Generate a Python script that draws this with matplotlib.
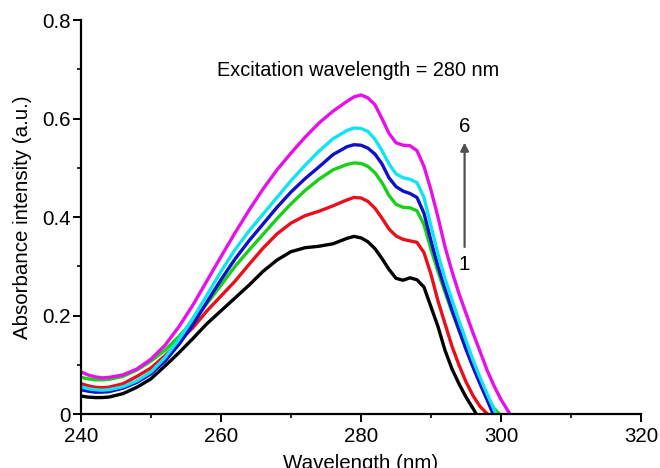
import matplotlib
matplotlib.use("Agg")
import matplotlib.pyplot as plt
from matplotlib.ticker import MultipleLocator

plt.rcParams['font.family'] = ['Liberation Sans', 'DejaVu Sans']

# absorbance spectra 1..6 (wavelength in nm, absorbance in a.u.)
wl_1 = [240, 241, 242, 243, 244, 246, 248, 250, 252, 254, 256, 258, 260, 262, 264, 266, 268, 270,
        272, 274, 276, 278, 279, 280, 281, 282, 283, 284, 285, 286, 287, 288, 289, 290, 291, 292,
        293, 294, 295, 296, 296.5]
abs_1 = [0.037, 0.035, 0.034, 0.034, 0.035, 0.042, 0.055, 0.072, 0.098, 0.125, 0.154, 0.184, 0.210,
         0.236, 0.262, 0.290, 0.313, 0.330, 0.338, 0.341, 0.346, 0.357, 0.361, 0.358, 0.350, 0.336,
         0.316, 0.294, 0.276, 0.272, 0.277, 0.273, 0.258, 0.218, 0.178, 0.130, 0.092, 0.062, 0.035,
         0.012, 0.0]

wl_2 = [240, 241, 242, 243, 244, 246, 248, 250, 252, 254, 256, 258, 260, 262, 264, 266, 268, 270,
        272, 274, 276, 278, 279, 280, 281, 282, 283, 284, 285, 286, 287, 288, 289, 290, 291, 292,
        293, 294, 295, 296, 297, 298.1]
abs_2 = [0.062, 0.058, 0.055, 0.054, 0.055, 0.062, 0.077, 0.094, 0.119, 0.148, 0.176, 0.210, 0.240,
         0.270, 0.304, 0.337, 0.366, 0.388, 0.403, 0.412, 0.423, 0.435, 0.440, 0.439, 0.432, 0.418,
         0.398, 0.376, 0.362, 0.355, 0.352, 0.349, 0.328, 0.284, 0.230, 0.184, 0.138, 0.100, 0.066,
         0.038, 0.016, 0.0]

wl_3 = [240, 241, 242, 243, 244, 246, 248, 250, 252, 254, 256, 258, 260, 262, 264, 266, 268, 270,
        272, 274, 276, 278, 279, 280, 281, 282, 283, 284, 285, 286, 287, 288, 289, 290, 291, 292,
        293, 294, 295, 296, 297, 298, 299, 299.8]
abs_3 = [0.075, 0.072, 0.070, 0.070, 0.071, 0.077, 0.090, 0.108, 0.130, 0.158, 0.190, 0.225, 0.262,
         0.300, 0.333, 0.365, 0.397, 0.427, 0.454, 0.477, 0.496, 0.507, 0.510, 0.509, 0.503, 0.490,
         0.470, 0.444, 0.426, 0.420, 0.419, 0.413, 0.385, 0.335, 0.290, 0.248, 0.208, 0.170, 0.133,
         0.098, 0.066, 0.037, 0.012, 0.0]

wl_4 = [240, 241, 242, 243, 244, 246, 248, 250, 252, 254, 256, 258, 260, 262, 264, 266, 268, 270,
        272, 274, 276, 278, 279, 280, 281, 282, 283, 284, 285, 286, 287, 288, 289, 290, 291, 292,
        293, 294, 295, 296, 297, 298, 298.9]
abs_4 = [0.050, 0.047, 0.045, 0.045, 0.046, 0.053, 0.065, 0.082, 0.108, 0.142, 0.182, 0.228, 0.273,
         0.315, 0.352, 0.386, 0.420, 0.451, 0.478, 0.502, 0.527, 0.543, 0.547, 0.546, 0.540, 0.528,
         0.508, 0.480, 0.462, 0.453, 0.448, 0.440, 0.408, 0.352, 0.300, 0.255, 0.212, 0.172, 0.132,
         0.096, 0.062, 0.030, 0.0]

wl_5 = [240, 241, 242, 243, 244, 246, 248, 250, 252, 254, 256, 258, 260, 262, 264, 266, 268, 270,
        272, 274, 276, 278, 279, 280, 281, 282, 283, 284, 285, 286, 287, 288, 289, 290, 291, 292,
        293, 294, 295, 296, 297, 298, 299, 299.3]
abs_5 = [0.056, 0.052, 0.050, 0.049, 0.050, 0.056, 0.068, 0.086, 0.115, 0.152, 0.195, 0.242, 0.290,
         0.334, 0.372, 0.406, 0.440, 0.474, 0.505, 0.534, 0.559, 0.576, 0.581, 0.580, 0.574, 0.558,
         0.535, 0.508, 0.488, 0.480, 0.477, 0.470, 0.440, 0.382, 0.325, 0.275, 0.232, 0.190, 0.150,
         0.110, 0.075, 0.042, 0.010, 0.0]

wl_6 = [240, 241, 242, 243, 244, 246, 248, 250, 252, 254, 256, 258, 260, 262, 264, 266, 268, 270,
        272, 274, 276, 278, 279, 280, 281, 282, 283, 284, 285, 286, 287, 288, 289, 290, 291, 292,
        293, 294, 295, 296, 297, 298, 299, 300, 301.3]
abs_6 = [0.086, 0.080, 0.076, 0.074, 0.075, 0.080, 0.092, 0.112, 0.140, 0.178, 0.222, 0.271, 0.320,
         0.368, 0.414, 0.457, 0.496, 0.530, 0.562, 0.591, 0.615, 0.635, 0.644, 0.648, 0.642, 0.628,
         0.600, 0.570, 0.551, 0.546, 0.545, 0.535, 0.503, 0.455, 0.400, 0.340, 0.290, 0.245, 0.205,
         0.165, 0.128, 0.090, 0.058, 0.030, 0.0]

curves = [(wl_1, abs_1, '#000000'),
          (wl_2, abs_2, '#e8101a'),
          (wl_3, abs_3, '#18d018'),
          (wl_4, abs_4, '#1010c8'),
          (wl_5, abs_5, '#10e4f0'),
          (wl_6, abs_6, '#e810e8')]

fig = plt.figure(figsize=(6.6, 4.68), dpi=100)
ax = fig.add_axes([0.1227, 0.1147, 0.8485, 0.8425])

for wl, ab, col in curves:
    ax.plot(wl, ab, color=col, lw=2.4, solid_capstyle='round', solid_joinstyle='round')

ax.set_xlim(240, 320)
ax.set_ylim(0, 0.8)
ax.xaxis.set_major_locator(MultipleLocator(20))
ax.xaxis.set_minor_locator(MultipleLocator(10))
ax.yaxis.set_major_locator(MultipleLocator(0.2))
ax.yaxis.set_minor_locator(MultipleLocator(0.1))
ax.set_yticks([0, 0.2, 0.4, 0.6, 0.8])
ax.set_yticklabels(['0', '0.2', '0.4', '0.6', '0.8'])

for side in ['top', 'right']:
    ax.spines[side].set_visible(False)
for side in ['left', 'bottom']:
    ax.spines[side].set_linewidth(1.6)

ax.tick_params(which='major', direction='out', length=6, width=1.4, labelsize=14.8, pad=1.5)
ax.tick_params(which='minor', direction='out', length=3, width=1.2)
ax.tick_params(axis='x', which='major', pad=3)

ax.set_xlabel('Wavelength (nm)', fontsize=14.8, labelpad=6)
ax.set_ylabel('Absorbance intensity (a.u.)', fontsize=14.8, labelpad=7)

ax.text(279.6, 0.697, 'Excitation wavelength = 280 nm', fontsize=14.3, ha='center', va='center')

# arrow showing the increasing trend from spectrum 1 to 6
ax.annotate('', xy=(294.8, 0.557), xytext=(294.8, 0.334),
            arrowprops=dict(arrowstyle='-|>', color='#505050', lw=1.6, mutation_scale=12))
ax.text(294.8, 0.583, '6', fontsize=14.8, ha='center', va='center')
ax.text(294.8, 0.303, '1', fontsize=14.8, ha='center', va='center')

fig.savefig('out.png', dpi=100)
